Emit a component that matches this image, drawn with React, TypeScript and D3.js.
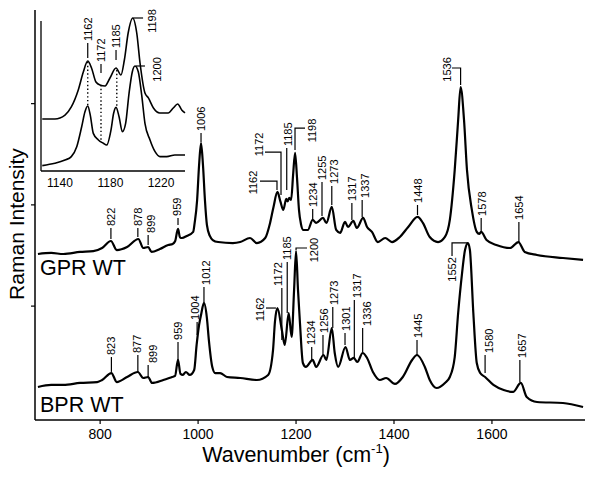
import React from "react";
import * as d3 from "d3";

// ---------- data ----------
const X_TICKS = [800, 1000, 1200, 1400, 1600];
const Y_TICKS = [100, 200, 300];
const INSET_X_TICKS = [1140, 1180, 1220];

const GPR_WT: [number, number][] = [
  [673,151.5],[700,152.5],[725,151.5],[759,153.5],[786,154.4],[804,157.4],[822,164.3],[834,155.4],
  [855,158.4],[878,166.3],[888,157.4],[898,158.4],[905,153.5],[922,156.4],[939,160.4],[948,161.4],
  [953,164],[959,176.2],[963,168],[967,167.3],[977,169.3],[990,173.3],[993,182.2],[998,204.6],
  [1002,239.1],[1006,261.1],[1010,239.1],[1014,204.6],[1018,180.2],[1024,169.3],[1030,165.3],
  [1041,163.3],[1071,162.3],[1086,163.3],[1106,167.3],[1120,162.3],[1137,167.3],[1147,182.2],
  [1154,198.0],[1162,212.8],[1168,203.5],[1174,195],[1180,206],[1183,203.5],[1186,207],[1190,205],
  [1194,229.6],[1198,251.4],[1202,226.6],[1206,195.0],[1210,181.2],[1215,175.2],[1224,175.2],
  [1234,185.1],[1241,182.2],[1255,187.1],[1262,182.2],[1273,198.0],[1282,175.2],[1290,172.3],
  [1300,183.2],[1306,178.2],[1317,184.1],[1324,177.2],[1337,187.1],[1345,178.2],[1355,173.3],
  [1367,163.3],[1382,167.3],[1396,163.3],[1412,168.3],[1429,178.2],[1448,188.1],[1459,182.2],
  [1473,168.3],[1490,163.3],[1504,168.3],[1514,185.1],[1524,234.5],[1531,283.8],[1536,316.4],
  [1543,283.8],[1549,234.5],[1559,195.0],[1569,173.3],[1574,171.3],[1578,173.3],[1589,165.3],
  [1609,160.4],[1637,157.4],[1654,163.3],[1667,153.5],[1692,150.5],[1745,147.5],[1786,145.6],
];

const BPR_WT: [number, number][] = [
  [673,20.1],[700,22.1],[725,22.1],[759,24.1],[794,25.0],[804,27.0],[823,33.9],[834,25.0],
  [855,30.0],[877,34.9],[888,29.0],[898,30.0],[906,24.1],[929,27.0],[947,30.0],[953,31.0],
  [959,46.8],[964,33],[969,32.0],[975,34.9],[983,32.0],[992,36.9],[997,61.6],[1002,81.3],
  [1006,91.2],[1012,103.1],[1018,88.2],[1022,66.5],[1029,39.9],[1035,33.9],[1045,33.9],
  [1059,30.0],[1086,29.0],[1120,27.0],[1143,32.0],[1153,56.6],[1157,85],[1162,98.1],[1171,76.4],
  [1177,61.6],[1185,93.2],[1191,69.5],[1196,115.9],[1200,154.4],[1204,115.9],[1208,83.3],
  [1214,43.8],[1220,39.9],[1234,46.8],[1241,39.9],[1256,51.7],[1262,46.8],[1273,78.4],
  [1279,53.7],[1286,39.9],[1301,59.6],[1310,46.8],[1318,48.8],[1325,44.8],[1336,53.7],
  [1345,48.8],[1357,34.9],[1371,27.0],[1384,29.0],[1402,23.1],[1418,30.0],[1437,46.8],
  [1447,51.7],[1463,39.9],[1473,27.0],[1487,19.1],[1504,24.1],[1514,30.0],[1524,49.7],
  [1531,93.2],[1539,132.7],[1545,155.4],[1551,162.3],[1555,155.4],[1562,93.2],[1569,43.8],
  [1576,33.9],[1586,30.0],[1603,22.1],[1624,17.1],[1643,15.2],[1659,24.1],[1671,10.2],
  [1692,5.3],[1745,4.3],[1786,0.3],
];

const INSET_GPR: [number, number][] = [
  [1126,34.7],[1136,34.7],[1144,37.3],[1149,42.7],[1154.5,54],[1158.5,66],[1162,73.3],[1165,68.7],
  [1168.5,59.3],[1171.7,57.3],[1175.7,56.7],[1179.6,62],[1184.4,68.7],[1188.3,64],[1191,74],
  [1194,92],[1197.6,102],[1200.8,92],[1203.4,72],[1207.3,52],[1210,48.7],[1214,42],[1219,38.7],
  [1225.8,38.7],[1229.7,42],[1233.2,44.7],[1236.4,40.7],[1239,38.7],
];

const INSET_BPR: [number, number][] = [
  [1126,3.6],[1136,5.1],[1144,7.3],[1149,9.6],[1153.3,16.2],[1157.2,29.5],[1159.8,39.5],[1162,43.3],
  [1164,37.3],[1166.4,25.1],[1170.4,20.7],[1174.3,18.5],[1177,17.3],[1180.4,27.3],[1182.5,38.5],
  [1184.4,42.4],[1186.8,36.2],[1189.4,26.2],[1192,31.8],[1194.7,51.8],[1197.3,66.2],[1199.4,70],
  [1202,66.2],[1204.7,50.7],[1207.3,31.8],[1211.3,20.7],[1215.3,12.9],[1219.2,9.6],[1224.5,9.6],
  [1231,10.7],[1239,10.7],
];

// simple peak labels: [label, wavenumber of leader, leader from, leader to, text shift]
type Simple = [string, number, number, number, number];
const GPR_PEAKS: Simple[] = [
  ["822", 822, 166.3, 177.1, 0],
  ["878", 877, 168.3, 177.1, 0],
  ["899", 898, 160.4, 170.3, 3],
  ["959", 959, 180.2, 187.1, -1],
  ["1006", 1006, 262.1, 271.0, 0],
  ["1185", 1181, 214.6, 256.1, 1],
  ["1234", 1234, 186.1, 196.0, 0],
  ["1255", 1253, 189.0, 222.6, 0],
  ["1273", 1273, 199.8, 218.7, 2],
  ["1317", 1314, 185.1, 201.9, 0],
  ["1337", 1335, 188.1, 204.9, 3],
  ["1448", 1448, 190.0, 199.9, 1],
  ["1578", 1578, 172.2, 187.1, 1],
  ["1654", 1655, 163.3, 183.2, 0],
];
const BPR_PEAKS: Simple[] = [
  ["823", 823, 35.0, 49.7, 0],
  ["877", 877, 35.0, 51.7, -1],
  ["899", 898, 30.0, 41.8, 5],
  ["959", 959, 46.8, 64.6, 0],
  ["1004", 998, 71.5, 84.4, -2],
  ["1012", 1012, 104.1, 118.9, 2],
  ["1172", 1171, 66.5, 118.0, -4],
  ["1185", 1182, 93.2, 143.6, 0],
  ["1234", 1232, 46.8, 59.7, -1],
  ["1256", 1255, 51.7, 71.5, 1],
  ["1273", 1275, 78.4, 99.1, 1],
  ["1301", 1300, 61.6, 73.5, 1],
  ["1317", 1319, 48.8, 106.1, 3],
  ["1336", 1336, 54.7, 78.4, 4],
  ["1445", 1447, 51.7, 66.5, 1],
  ["1580", 1586, 34.0, 51.7, 4],
  ["1657", 1657, 25.0, 46.8, 2],
];

// bracket labels: [label, leader path (wavenumber, intensity), text centre]
type Bracket = [string, [number, number][], [number, number]];
const BRACKETS: Bracket[] = [
  ["1162", [[1126.4,223.5],[1161.1,223.5],[1161.1,214.6]], [1112.1,222.1]],
  ["1172", [[1136.6,252.2],[1169.3,252.2],[1169.3,209.7]], [1124.4,259.7]],
  ["1198", [[1197.9,254.2],[1197.9,275.9],[1218.3,275.9]], [1233.6,273.5]],
  ["1536", [[1518.4,335.2],[1536,335.2],[1536,318.4]], [1509.2,333.8]],
  ["1162", [[1138.6,98.1],[1159,98.1]], [1126,96.7]],
  ["1200", [[1200,155.4],[1200,157.4],[1222.4,157.4]], [1236.7,155.4]],
  ["1552", [[1518.5,149.5],[1518.5,162.4],[1551,162.4]], [1519.4,136.2]],
];

const INSET_PEAKS: Simple[] = [
  ["1162", 1162, 75.3, 85.3, 0],
  ["1172", 1172.5, 65.3, 71.3, 0],
  ["1185", 1184.4, 74, 80.7, 0],
];
const INSET_BRACKETS: Bracket[] = [
  ["1198", [[1198,102],[1205.8,102]], [1213,100]],
  ["1200", [[1200,70],[1207.3,70]], [1217,67.7]],
];
// dotted guides: [wavenumber, top, bottom]
const INSET_GUIDES: [number, number, number][] = [
  [1162, 72.7, 43.3],
  [1172.5, 57.3, 20.7],
  [1185, 67.3, 42.7],
];

const SPECTRUM_NAMES = ["GPR WT", "BPR WT"];

// ---------- component ----------
const FONT = "'Liberation Sans', Arial, Helvetica, sans-serif";

export default function App() {
  const W = 600, H = 477;
  const x = d3.scaleLinear().domain([667, 1790]).range([35, 585]);
  const y = d3.scaleLinear().domain([-12.5, 392.5]).range([420, 10]);
  const ix = d3.scaleLinear().domain([1125, 1239]).range([41, 185]);
  const iy = d3.scaleLinear().domain([0, 100]).range([171, 21]);

  const line = d3.line<[number, number]>().x((d) => x(d[0])).y((d) => y(d[1])).curve(d3.curveMonotoneX);
  const iline = d3.line<[number, number]>().x((d) => ix(d[0])).y((d) => iy(d[1])).curve(d3.curveMonotoneX);
  const poly = (sx: any, sy: any) => d3.line<[number, number]>().x((d) => sx(d[0])).y((d) => sy(d[1]));

  const LABEL_FS = 11;

  const simple = (arr: Simple[], sx: any, sy: any, key: string) =>
    arr.map(([lab, at, from, to, dx], i) => {
      const px = sx(at);
      const y0 = sy(from), y1 = sy(to);
      return (
        <g key={key + i}>
          <line x1={px} x2={px} y1={y0} y2={y1} stroke="#000" strokeWidth={1.2} />
          <text
            transform={`translate(${px + dx},${y1 - 2}) rotate(-90)`}
            dy="0.36em"
            fontSize={LABEL_FS}
            fontFamily={FONT}
            textAnchor="start"
          >
            {lab}
          </text>
        </g>
      );
    });

  const brackets = (arr: Bracket[], sx: any, sy: any, key: string) =>
    arr.map(([lab, pts, t], i) => (
      <g key={key + i}>
        <path d={poly(sx, sy)(pts) || ""} fill="none" stroke="#000" strokeWidth={1.2} />
        <text
          transform={`translate(${sx(t[0])},${sy(t[1])}) rotate(-90)`}
          dy="0.36em"
          fontSize={LABEL_FS}
          fontFamily={FONT}
          textAnchor="middle"
        >
          {lab}
        </text>
      </g>
    ));

  return (
    <svg width={W} height={H} style={{ position: "absolute", left: 0, top: 0, background: "#fff" }}>
      <rect width={W} height={H} fill="#fff" />
      {/* main axes */}
      <line x1={35} x2={35} y1={10} y2={420} stroke="#000" strokeWidth={1.5} />
      <line x1={35} x2={585} y1={420} y2={420} stroke="#000" strokeWidth={1.5} />
      {Y_TICKS.map((t) => (
        <line key={"yt" + t} x1={31} x2={35} y1={y(t)} y2={y(t)} stroke="#000" strokeWidth={1.2} />
      ))}
      {X_TICKS.map((t) => (
        <g key={"xt" + t}>
          <line x1={x(t)} x2={x(t)} y1={420} y2={424} stroke="#000" strokeWidth={1.2} />
          <text x={x(t)} y={439} textAnchor="middle" fontSize={14} fontFamily={FONT}>
            {t}
          </text>
        </g>
      ))}
      <text
        transform={`translate(16,224) rotate(-90)`}
        dy="0.36em"
        textAnchor="middle"
        fontSize={21}
        fontFamily={FONT}
      >
        Raman Intensity
      </text>
      <text x={296} y={462} textAnchor="middle" fontSize={21.5} fontFamily={FONT}>
        Wavenumber (cm
        <tspan fontSize={13} dy={-9}>-1</tspan>
        <tspan dy={9}>)</tspan>
      </text>

      {/* spectra */}
      <path d={line(GPR_WT) || ""} fill="none" stroke="#000" strokeWidth={2.2} strokeLinejoin="round" />
      <path d={line(BPR_WT) || ""} fill="none" stroke="#000" strokeWidth={2.2} strokeLinejoin="round" />
      <text x={40} y={275} fontSize={21.5} fontFamily={FONT}>{SPECTRUM_NAMES[0]}</text>
      <text x={40} y={412} fontSize={21.5} fontFamily={FONT}>{SPECTRUM_NAMES[1]}</text>

      {simple(GPR_PEAKS, x, y, "g")}
      {simple(BPR_PEAKS, x, y, "b")}
      {brackets(BRACKETS, x, y, "br")}

      {/* inset */}
      <line x1={41} x2={41} y1={21} y2={171} stroke="#000" strokeWidth={1.3} />
      <line x1={41} x2={185} y1={171} y2={171} stroke="#000" strokeWidth={1.3} />
      {INSET_X_TICKS.map((t) => (
        <text key={"it" + t} x={ix(t)} y={187} textAnchor="middle" fontSize={12} fontFamily={FONT}>
          {t}
        </text>
      ))}
      <path d={iline(INSET_GPR) || ""} fill="none" stroke="#000" strokeWidth={1.6} strokeLinejoin="round" />
      <path d={iline(INSET_BPR) || ""} fill="none" stroke="#000" strokeWidth={1.6} strokeLinejoin="round" />
      {INSET_GUIDES.map(([wn, a, b], i) => (
        <line
          key={"gd" + i}
          x1={ix(wn)}
          x2={ix(wn)}
          y1={iy(a)}
          y2={iy(b)}
          stroke="#000"
          strokeWidth={1.4}
          strokeDasharray="1.4,2.4"
        />
      ))}
      {simple(INSET_PEAKS, ix, iy, "ip")}
      {brackets(INSET_BRACKETS, ix, iy, "ib")}
    </svg>
  );
}
